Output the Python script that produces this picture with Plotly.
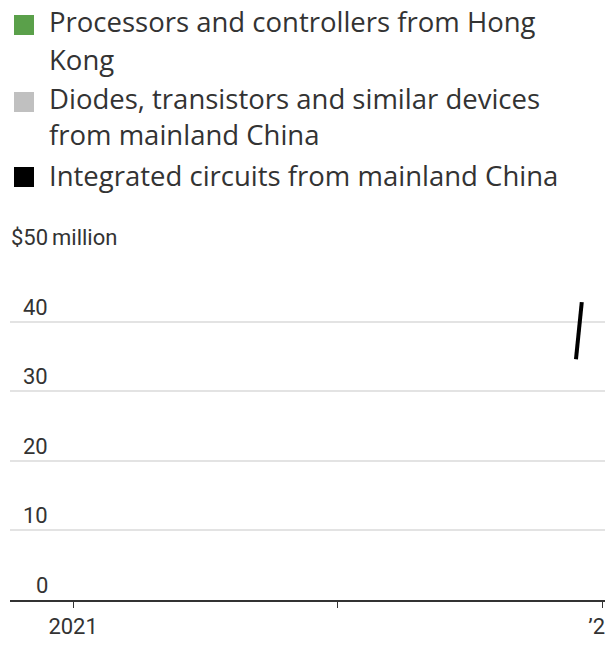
import plotly.graph_objects as go

# ---- data ----
series_names = [
    "Processors and controllers from Hong Kong",
    "Diodes, transistors and similar devices from mainland China",
    "Integrated circuits from mainland China",
]
legend_lines = [
    ["Processors and controllers from Hong", "Kong"],
    ["Diodes, transistors and similar devices", "from mainland China"],
    ["Integrated circuits from mainland China"],
]
series_colors = ["#5aa04a", "#c0c0c0", "#000000"]

hk_processors_dates = []
hk_processors_values = []
cn_diodes_dates = []
cn_diodes_values = []
cn_ic_dates = ["2022-11-25", "2022-12-03"]
cn_ic_values = [34.6, 42.8]

ytick_values = [0, 10, 20, 30, 40, 50]
ytick_labels = ["0", "10", "20", "30", "40", "$50"]
y_unit = "million"

xtick_values = ["2021-01-01", "2022-01-01", "2023-01-01"]
xtick_labels = ["2021", "", "\u201923"]

AXFONT = "Roboto"
LGFONT = "Open Sans"
W, H = 605, 655
ML, MR, MT, MB = 10, 0, 252, 55
PW, PH = W - ML - MR, H - MT - MB


def px_to_paper_x(px):
    return (px - ML) / PW


def px_to_paper_y(py):
    return (H - MB - py) / PH


fig = go.Figure()

all_series = [
    (hk_processors_dates, hk_processors_values),
    (cn_diodes_dates, cn_diodes_values),
    (cn_ic_dates, cn_ic_values),
]
for (xs, ys), name, col in zip(all_series, series_names, series_colors):
    fig.add_trace(go.Scatter(x=xs, y=ys, mode="lines", name=name,
                             line=dict(color=col, width=4),
                             showlegend=False))

# ---- legend (swatches + wrapped labels) ----
swatch_tops = [15, 92, 167]
line_centers = [[21, 59], [99, 135], [175]]
for col, top, lines, centers in zip(series_colors, swatch_tops, legend_lines, line_centers):
    fig.add_shape(type="rect", xref="paper", yref="paper",
                  x0=px_to_paper_x(14), x1=px_to_paper_x(34),
                  y0=px_to_paper_y(top + 20), y1=px_to_paper_y(top),
                  fillcolor=col, line=dict(width=0))
    for txt, cy in zip(lines, centers):
        fig.add_annotation(x=px_to_paper_x(47), xref="paper",
                           y=px_to_paper_y(cy), yref="paper", text=txt,
                           xanchor="left", yanchor="middle", showarrow=False,
                           font=dict(family=LGFONT, size=27.5, color="#333333"))

# ---- y tick labels (right aligned, above gridline) ----
label_x = px_to_paper_x(50)
for v, t in zip(ytick_values, ytick_labels):
    fig.add_annotation(x=label_x, xref="paper", y=v, yref="y", text=t,
                       xanchor="right", yanchor="bottom", showarrow=False,
                       yshift=0, font=dict(family=AXFONT, size=22, color="#333333"))
fig.add_annotation(x=label_x, xref="paper", y=ytick_values[-1], yref="y",
                   text=y_unit, xanchor="left", yanchor="bottom", showarrow=False,
                   xshift=0, yshift=0, font=dict(family=AXFONT, size=22, color="#333333"))

fig.update_layout(
    width=W, height=H,
    margin=dict(l=ML, r=MR, t=MT, b=MB, autoexpand=False),
    plot_bgcolor="white", paper_bgcolor="white",
    font=dict(family=AXFONT, size=22, color="#333333"),
    showlegend=False,
)
fig.update_xaxes(
    type="date", range=["2020-10-06", "2023-01-04"],
    tickvals=xtick_values, ticktext=xtick_labels,
    ticks="outside", ticklen=6, tickwidth=1, tickcolor="#333333",
    showline=True, linecolor="#333333", linewidth=2,
    showgrid=False, zeroline=False, ticklabeloverflow="allow",
    automargin=False,
    tickfont=dict(family=AXFONT, size=22, color="#333333"),
)
fig.update_yaxes(
    range=[0, 50], tickvals=ytick_values, showticklabels=False,
    showgrid=True, gridcolor="#e3e3e3", gridwidth=2,
    zeroline=False, showline=False, automargin=False,
)

fig.write_html("out.html")
